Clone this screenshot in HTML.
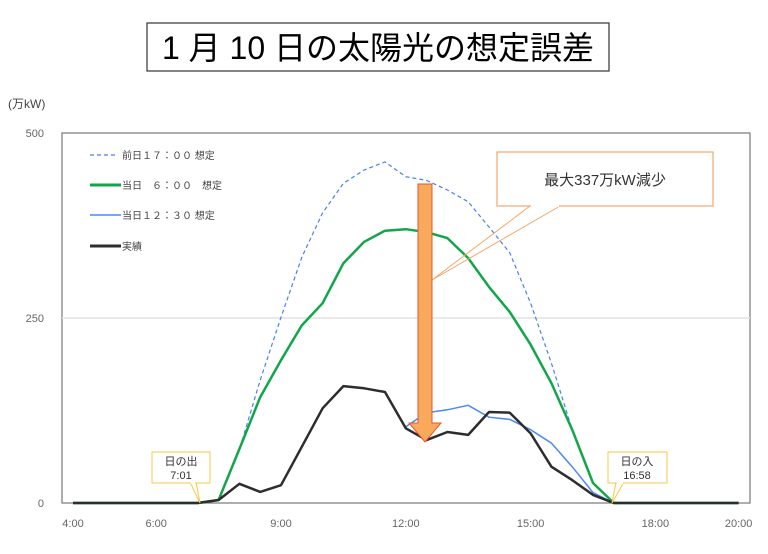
<!DOCTYPE html>
<html><head><meta charset="utf-8"><style>
body{margin:0;width:768px;height:549px;background:#fff;overflow:hidden;font-family:"Liberation Sans","Noto Sans CJK JP",sans-serif;}
svg text{font-family:"Liberation Sans","Noto Sans CJK JP",sans-serif;}
</style></head><body>
<svg id="chart" width="768" height="549" xmlns="http://www.w3.org/2000/svg">
<rect x="147" y="23" width="462" height="48" fill="#fff" stroke="#333" stroke-width="1.2"/>
<text x="378" y="59" font-size="32" text-anchor="middle" fill="#000">1 月 10 日の太陽光の想定誤差</text>
<text x="8" y="108" font-size="12" fill="#444">(万kW)</text>
<rect x="62" y="133" width="688" height="370" fill="none" stroke="#777" stroke-width="1.2"/>
<g id="grid"></g><g id="yticks"></g><g id="xticks"></g><g id="series"></g>
<g font-size="10" fill="#444">
<line x1="90" y1="155" x2="118" y2="155" stroke="#4a7ef0" stroke-width="1.2" stroke-dasharray="4,3"/><text x="122" y="159">前日１７：００ 想定</text>
<line x1="90" y1="185" x2="121" y2="185" stroke="#12a64a" stroke-width="3"/><text x="122" y="189">当日　６：００　想定</text>
<line x1="90" y1="215" x2="121" y2="215" stroke="#4a8af5" stroke-width="1.5"/><text x="122" y="219">当日１２：３０ 想定</text>
<line x1="90" y1="246" x2="121" y2="246" stroke="#2d2d2d" stroke-width="3"/><text x="122" y="250">実績</text>
</g>
<g>
<polyline points="530,206 432,280 560,206" fill="none" stroke="#f4a76a" stroke-width="1"/>
<rect x="497" y="152" width="216" height="54" fill="#fff" stroke="#f4a76a" stroke-width="1.2"/>
<line x1="531" y1="206" x2="559" y2="206" stroke="#fff" stroke-width="2"/>
<text x="605" y="185" font-size="15" text-anchor="middle" fill="#333">最大337万kW減少</text>
</g>
<polygon points="418,184 432,184 432,423 441,423 425,442 409,423 418,423" fill="#f8a95c" stroke="#e8552f" stroke-width="1"/>
<g>
<polygon points="190,482 200,503 196,482" fill="#fff" stroke="#f5c84a"/>
<rect x="152" y="452" width="58" height="31" fill="#fff" stroke="#f5c84a"/>
<line x1="191" y1="483" x2="195" y2="483" stroke="#fff" stroke-width="2"/>
<text x="181" y="465" font-size="11" text-anchor="middle" fill="#333">日の出</text>
<text x="181" y="479" font-size="11" text-anchor="middle" fill="#333">7:01</text>
</g>
<g>
<polygon points="616,482 612,503 624,482" fill="#fff" stroke="#f5c84a"/>
<rect x="608" y="452" width="59" height="31" fill="#fff" stroke="#f5c84a"/>
<line x1="617" y1="483" x2="623" y2="483" stroke="#fff" stroke-width="2"/>
<text x="637" y="465" font-size="11" text-anchor="middle" fill="#333">日の入</text>
<text x="637" y="479" font-size="11" text-anchor="middle" fill="#333">16:58</text>
</g>
</svg>
<script>
const hours=[4,4.5,5,5.5,6,6.5,7,7.5,8,8.5,9,9.5,10,10.5,11,11.5,12,12.5,13,13.5,14,14.5,15,15.5,16,16.5,17,17.5,18,18.5,19,19.5,20];
const prevDay17=[0,0,0,0,0,0,0,4,72,166,251,332,392,432,450,461,441,436,423,407,373,338,270,189,99,27,0,0,0,0,0,0,0];
const sameDay06=[0,0,0,0,0,0,0,4,73,143,193,240,270,324,353,368,370,366,358,331,292,258,214,162,99,27,0,0,0,0,0,0,0];
const sameDay1230=[null,null,null,null,null,null,null,null,null,null,null,null,null,null,null,null,103,122,126,132,116,113,99,81,49,14,0,null,null,null,null,null,null];
const actual=[0,0,0,0,0,0,0,4,26,15,24,76,128,158,155,150,101,85,96,92,123,122,94,49,31,11,0,0,0,0,0,0,0];
const yTicks=[0,250,500];
const xTickHours=[4,6,9,12,15,18,20];
const xTickLabels=["4:00","6:00","9:00","12:00","15:00","18:00","20:00"];
const NS="http://www.w3.org/2000/svg";
const X=h=>73+(h-4)*41.6;
const Y=v=>503-v*0.74;
function mk(t,a,p){const e=document.createElementNS(NS,t);for(const k in a)e.setAttribute(k,a[k]);p.appendChild(e);return e;}
const grid=document.getElementById('grid'),yt=document.getElementById('yticks'),xt=document.getElementById('xticks'),sg=document.getElementById('series');
yTicks.forEach(v=>{
 if(v===250){const g=mk('line',{x1:62,x2:750,y1:Y(v),y2:Y(v),stroke:'#e2e2e2','stroke-width':1.5},grid);
 
 }
 const t=mk('text',{x:44,y:Y(v)+4,'font-size':11,'text-anchor':'end',fill:'#666'},yt);t.textContent=v;
 
 
});
xTickHours.forEach((h,i)=>{
 const t=mk('text',{x:X(h),y:527,'font-size':11,'text-anchor':'middle',fill:'#666'},xt);t.textContent=xTickLabels[i];
 
 
});
function path(vals){let d='';let pen=false;vals.forEach((v,i)=>{if(v==null){pen=false;return;}d+=(pen?'L':'M')+X(hours[i]).toFixed(1)+','+Y(v).toFixed(1);pen=true;});return d;}
const s1=mk('path',{d:path(prevDay17),fill:'none',stroke:'#4a7ef0','stroke-width':1.2,'stroke-dasharray':'4,3'},sg);


const s2=mk('path',{d:path(sameDay06),fill:'none',stroke:'#12a64a','stroke-width':2.5,'stroke-linejoin':'round'},sg);


const s3=mk('path',{d:path(sameDay1230),fill:'none',stroke:'#4a8af5','stroke-width':1.5},sg);


const s4=mk('path',{d:path(actual),fill:'none',stroke:'#2d2d2d','stroke-width':2.5,'stroke-linejoin':'round'},sg);


</script>
</body></html>
